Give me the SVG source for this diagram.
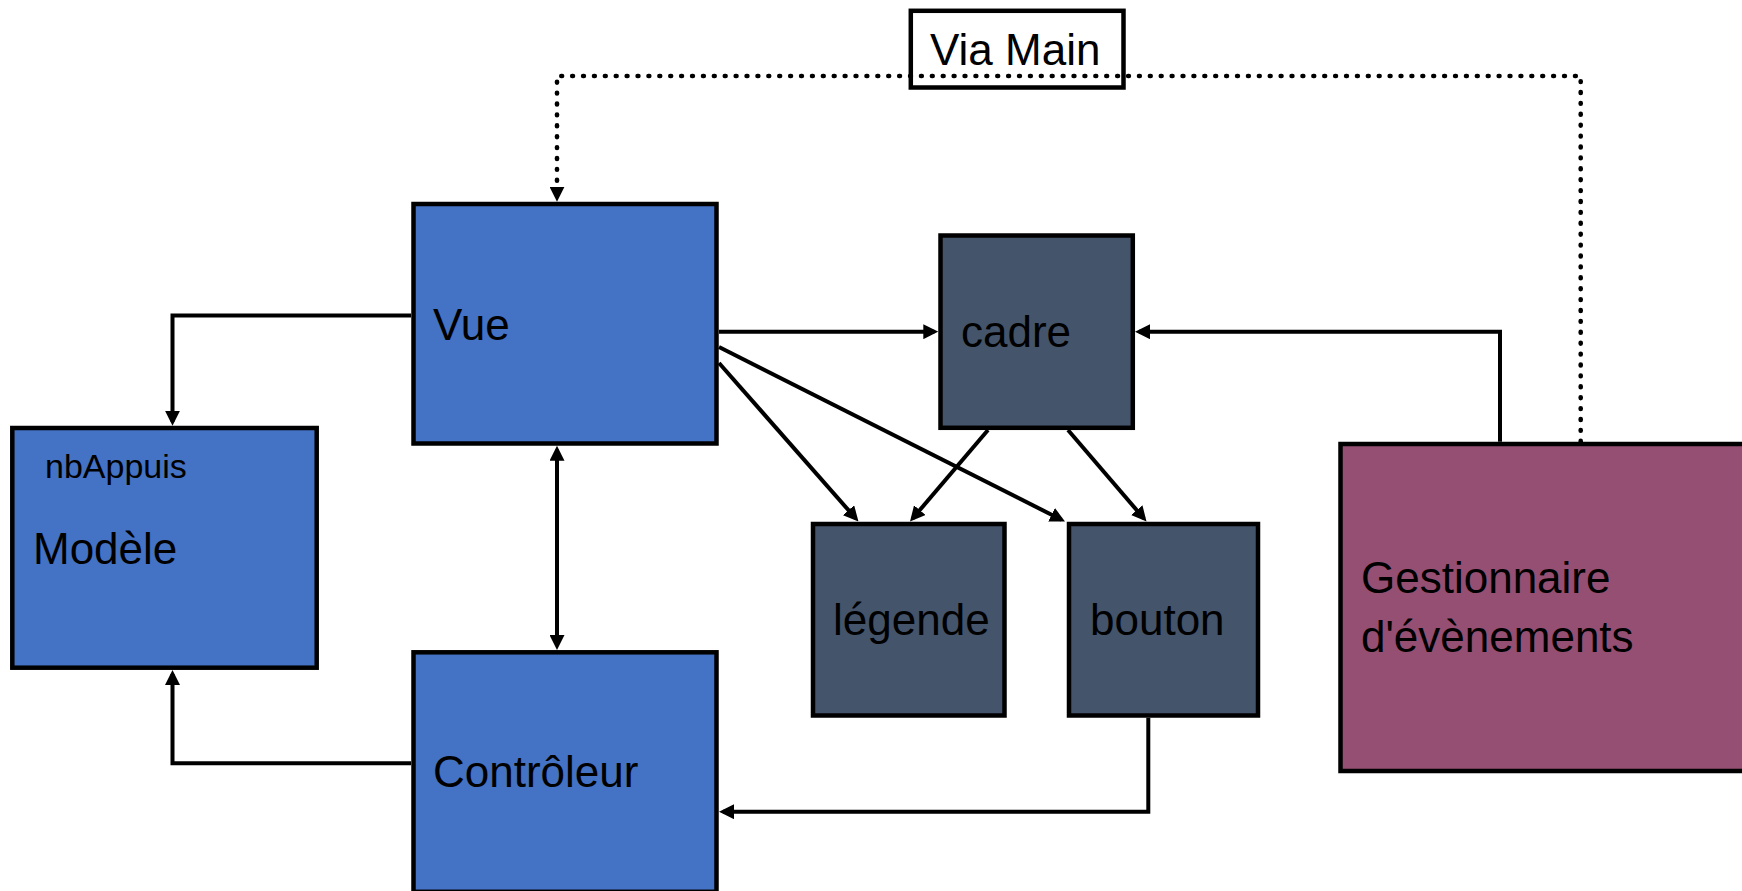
<svg xmlns="http://www.w3.org/2000/svg" width="1742" height="891" viewBox="0 0 1742 891">
<style>
.box{stroke:#000;stroke-width:4.5}
.blue{fill:#4472C4}
.slate{fill:#44546A}
.plum{fill:#954F72}
.lbl{font-family:"Liberation Sans",Arial,sans-serif;font-size:44px;fill:#000}
.small{font-size:34px}
.con{fill:none;stroke:#000;stroke-width:4}
.arr{marker-end:url(#ah)}
.dot{stroke-width:4.6;stroke-dasharray:0.8 10.1;stroke-linecap:round}
</style>
<defs>
<marker id="ah" markerUnits="userSpaceOnUse" markerWidth="15" markerHeight="15" refX="11" refY="7.5" orient="auto-start-reverse" viewBox="0 0 15 15">
<path d="M0,0 L15,7.5 L0,15 z" fill="#000"/>
</marker>
</defs>
<rect width="1742" height="891" fill="#fff"/>
<g id="via-main">
<rect class="box" x="910.8" y="10.8" width="212.7" height="76.7" fill="#fff"/>
<text class="lbl" x="930" y="65">Via Main</text>
</g>
<g id="vue">
<rect class="box blue" x="413.5" y="204" width="303" height="239.5"/>
<text class="lbl" x="433" y="340">Vue</text>
</g>
<g id="modele">
<rect class="box blue" x="12.3" y="428" width="304.4" height="239.7"/>
<text class="lbl small" x="45" y="478">nbAppuis</text>
<text class="lbl" x="33" y="564">Modèle</text>
</g>
<g id="controleur">
<rect class="box blue" x="413.5" y="652.3" width="303" height="239.5"/>
<text class="lbl" x="433" y="787">Contrôleur</text>
</g>
<g id="cadre">
<rect class="box slate" x="940.5" y="235.5" width="192.3" height="192.3"/>
<text class="lbl" x="961" y="347">cadre</text>
</g>
<g id="legende">
<rect class="box slate" x="813" y="524" width="191.5" height="191.5"/>
<text class="lbl" x="833" y="635">légende</text>
</g>
<g id="bouton">
<rect class="box slate" x="1069" y="524" width="189" height="191.5"/>
<text class="lbl" x="1090" y="635">bouton</text>
</g>
<g id="gestionnaire">
<rect class="box plum" x="1340.5" y="444" width="500" height="327"/>
<text class="lbl" x="1361" y="593">Gestionnaire</text>
<text class="lbl" x="1361" y="652">d'évènements</text>
</g>
<g id="connectors">
<path class="con arr" d="M411,315.5 H172.5 V421.7"/>
<path class="con arr" d="M411,763.3 H172.5 V674"/>
<path class="con arr" style="marker-start:url(#ah)" d="M557,449.7 V646"/>
<path class="con arr" d="M719,331.7 H934.3"/>
<path class="con arr" d="M1500,441.7 V331.7 H1139"/>
<path class="con arr" d="M1148.3,717.7 V811.7 H723"/>
<path class="con arr" d="M719,363 L855.8,518.5"/>
<path class="con arr" d="M719,347 L1061.4,519.7"/>
<path class="con arr" d="M988,430 L912.6,518.5"/>
<path class="con arr" d="M1068,430 L1143.9,518.5"/>
<path class="con arr dot" d="M1580.7,441.7 V76 H557 V197.7"/>
</g>
</svg>
